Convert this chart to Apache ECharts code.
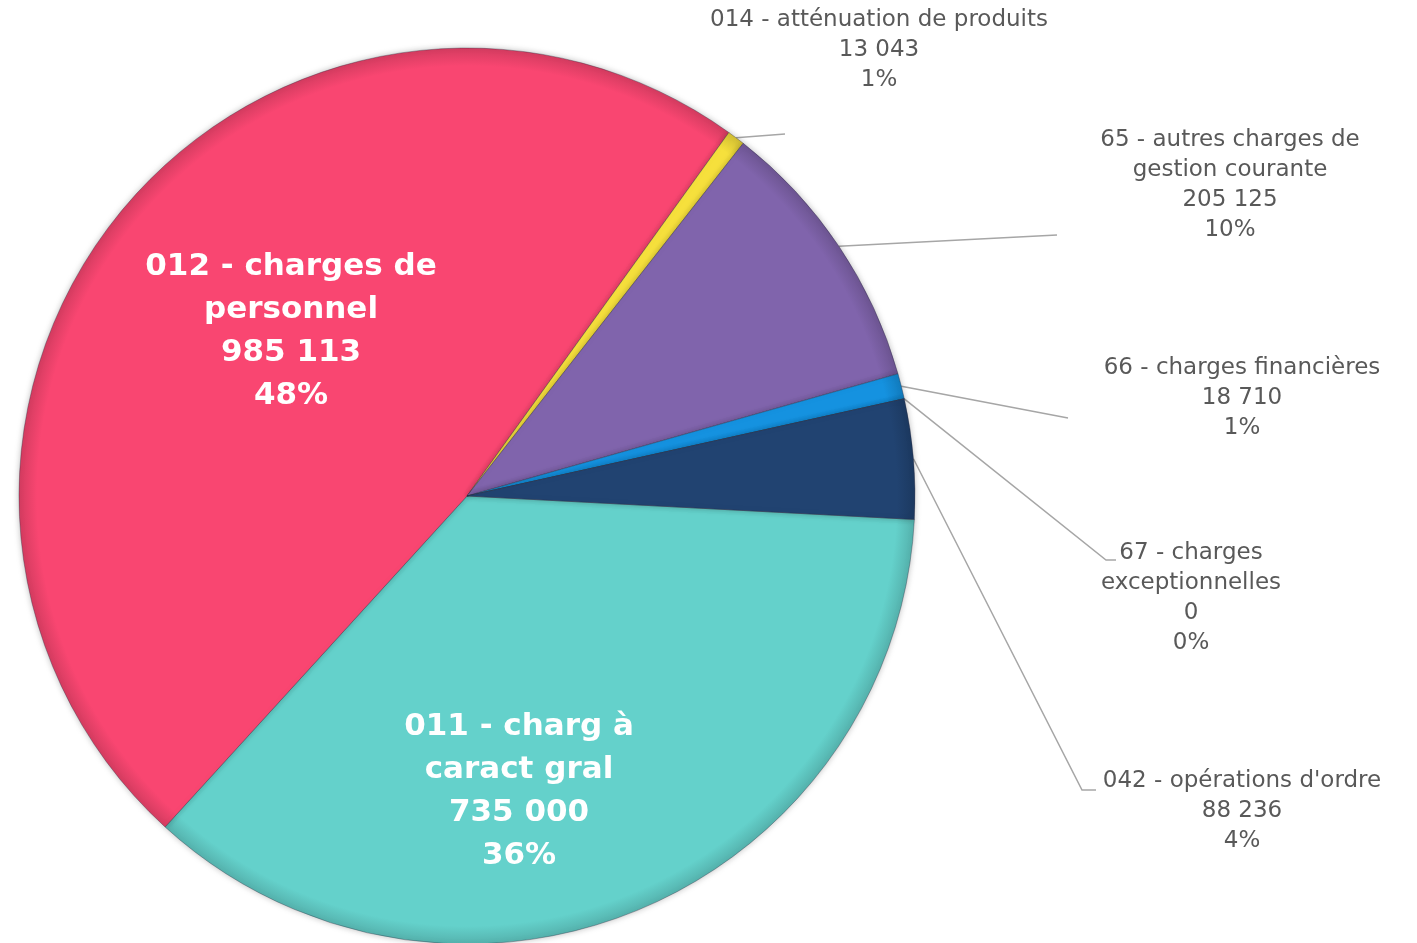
<!DOCTYPE html>
<html>
<head>
<meta charset="utf-8">
<script src="https://cdn.jsdelivr.net/npm/echarts@6/dist/echarts.min.js"></script>
<style>
  html, body { margin: 0; padding: 0; background: #fff; }
  #chart { width: 1417px; height: 943px; }
</style>
</head>
<body>
<div id="chart"></div>
<script>
const categories = [
  '011 - charg à\ncaract gral',
  '012 - charges de\npersonnel',
  '014 - atténuation de produits',
  '65 - autres charges de\ngestion courante',
  '66 - charges financières',
  '67 - charges\nexceptionnelles',
  '042 - opérations d\'ordre'
];
const values = [735000, 985113, 13043, 205125, 18710, 0, 88236];
const colors = ['#64d1cb', '#f94671', '#f6e03c', '#8064ac', '#1592e0', '#3a5d8f', '#214371'];
const insideIdx = [0, 1];

// where each label sits (block top centre) and where its leader ends
const labelPos = [
  { x: 519, y: 705 },
  { x: 291, y: 245 },
  { x: 879, y: 5, line: [[785, 134]] },
  { x: 1230, y: 125, line: [[1057, 235]] },
  { x: 1242, y: 353, line: [[1068, 418]] },
  { x: 1191, y: 538, line: [[1106, 560], [1116, 560]] },
  { x: 1242, y: 766, line: [[1082, 790], [1096, 790]] }
];

const cx = 467, cy = 496, R = 448;

function fmt(n) {
  return String(n).replace(/\B(?=(\d{3})+(?!\d))/g, ' ');
}

function shade(c, k) {
  const n = parseInt(c.slice(1), 16);
  const r = Math.round(((n >> 16) & 255) * k);
  const g = Math.round(((n >> 8) & 255) * k);
  const b = Math.round((n & 255) * k);
  return 'rgb(' + r + ',' + g + ',' + b + ')';
}

const seriesData = categories.map((name, i) => {
  const inside = insideIdx.indexOf(i) >= 0;
  return {
    name: name,
    value: values[i],
    itemStyle: {
      color: {
        type: 'radial', x: cx, y: cy, r: R, global: true,
        colorStops: [
          { offset: 0, color: colors[i] },
          { offset: 0.96, color: colors[i] },
          { offset: 1, color: shade(colors[i], 0.85) }
        ]
      }
    },
    label: inside ? {
      color: '#ffffff',
      fontWeight: 'bold',
      fontSize: 31,
      lineHeight: 43,
      fontFamily: 'DejaVu Sans'
    } : {},
    labelLine: { show: !inside }
  };
});

const myChart = echarts.init(document.getElementById('chart'), null, { renderer: 'canvas' });
myChart.setOption({
  backgroundColor: '#ffffff',
  animation: false,
  series: [{
    type: 'pie',
    center: [cx, cy],
    radius: R,
    startAngle: -3,
    clockwise: true,
    avoidLabelOverlap: false,
    data: seriesData,
    itemStyle: {
      borderColor: 'rgba(40,40,60,0.35)',
      borderWidth: 1,
      shadowBlur: 6,
      shadowColor: 'rgba(0,0,0,0.25)'
    },
    label: {
      show: true,
      position: 'outside',
      color: '#595959',
      fontSize: 23,
      lineHeight: 30,
      fontFamily: 'DejaVu Sans',
      fontWeight: 'normal',
      align: 'center',
      formatter: p => p.name + '\n' + fmt(p.value) + '\n' + Math.round(p.percent) + '%'
    },
    labelLine: {
      show: true,
      lineStyle: { color: '#a6a6a6', width: 1.5 }
    },
    labelLayout: function (params) {
      const pos = labelPos[params.dataIndex];
      const out = { x: pos.x, y: pos.y, align: 'center', verticalAlign: 'top' };
      if (pos.line && params.labelLinePoints) {
        const p0 = params.labelLinePoints[0];
        const pts = [p0].concat(pos.line);
        while (pts.length < 3) pts.push(pts[pts.length - 1]);
        out.labelLinePoints = pts;
      }
      return out;
    }
  }]
});
</script>
</body>
</html>
